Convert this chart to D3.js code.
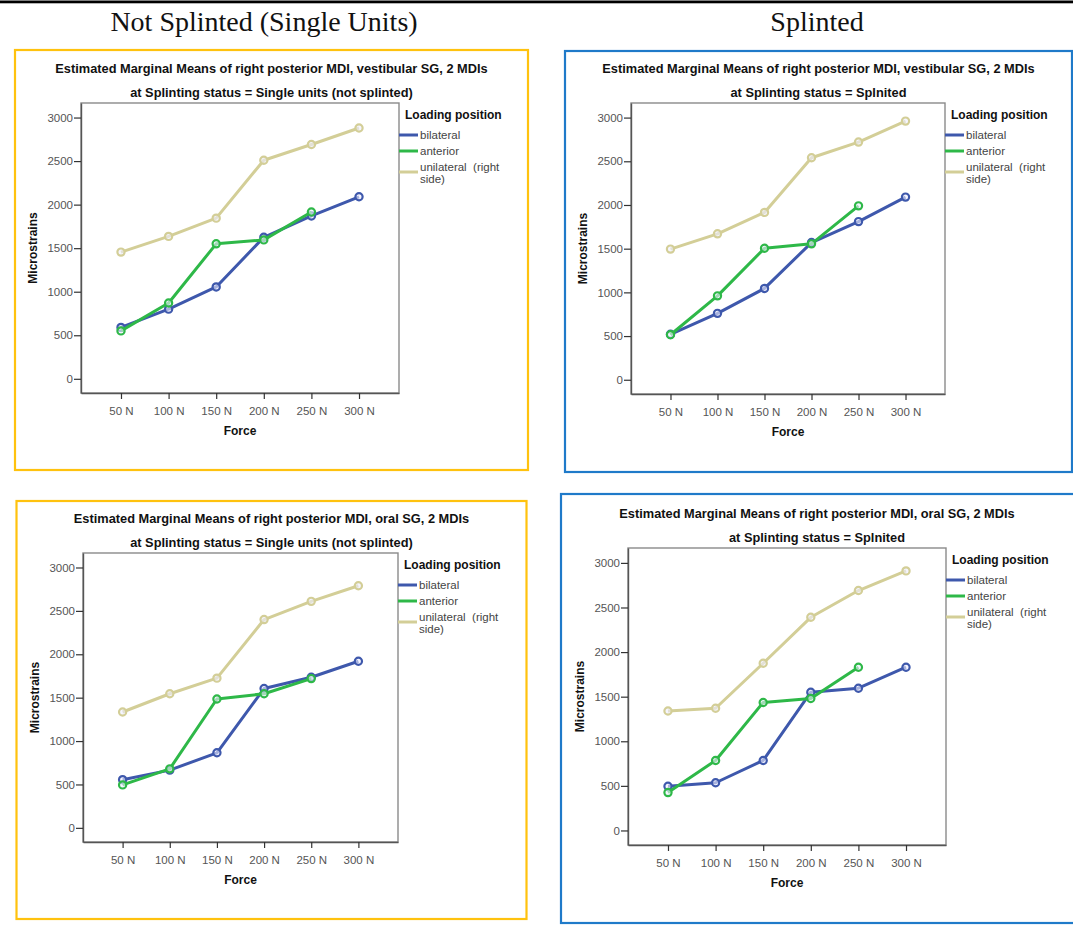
<!DOCTYPE html>
<html>
<head>
<meta charset="utf-8">
<script src="https://cdn.jsdelivr.net/npm/d3@7"></script>
<style>
  html, body { margin: 0; padding: 0; background: #fff; }
  svg { display: block; }
  text { font-family: "Liberation Sans", Arial, sans-serif; }
</style>
</head>
<body>
<svg id="fig" width="1073" height="931"></svg>
<script>
// Force levels on the x axis
const forces = ["50 N", "100 N", "150 N", "200 N", "250 N", "300 N"];
const yTicks = [0, 500, 1000, 1500, 2000, 2500, 3000];
const positions = ["bilateral", "anterior", "unilateral"];
const positionLabels = [["bilateral"], ["anterior"], ["unilateral  (right", "side)"]];

// Estimated marginal means (microstrains), vestibular SG, single units
const vestSingleBilateral  = [590, 800, 1055, 1625, 1870, 2090];
const vestSingleAnterior   = [550, 870, 1550, 1595, 1915];
const vestSingleUnilateral = [1455, 1635, 1845, 2510, 2690, 2880];

// vestibular SG, splinted
const vestSplintBilateral  = [520, 760, 1045, 1570, 1810, 2090];
const vestSplintAnterior   = [515, 960, 1505, 1555, 1990];
const vestSplintUnilateral = [1495, 1670, 1915, 2540, 2720, 2960];

// oral SG, single units
const oralSingleBilateral  = [555, 665, 865, 1605, 1735, 1920];
const oralSingleAnterior   = [495, 680, 1485, 1545, 1720];
const oralSingleUnilateral = [1335, 1545, 1725, 2400, 2610, 2790];

// oral SG, splinted
const oralSplintBilateral  = [495, 535, 785, 1550, 1595, 1830];
const oralSplintAnterior   = [425, 785, 1435, 1480, 1830];
const oralSplintUnilateral = [1340, 1370, 1875, 2390, 2690, 2910];

const titleLine1 = [
  "Estimated Marginal Means of right posterior MDI, vestibular SG, 2 MDIs",
  "Estimated Marginal Means of right posterior MDI, vestibular SG, 2 MDIs",
  "Estimated Marginal Means of right posterior MDI, oral SG, 2 MDIs",
  "Estimated Marginal Means of right posterior MDI, oral SG, 2 MDIs"
];
const titleLine2 = [
  "at Splinting status = Single units (not splinted)",
  "at Splinting status = Splnited",
  "at Splinting status = Single units (not splinted)",
  "at Splinting status = Splnited"
];
const seriesByPanel = [
  [vestSingleBilateral, vestSingleAnterior, vestSingleUnilateral],
  [vestSplintBilateral, vestSplintAnterior, vestSplintUnilateral],
  [oralSingleBilateral, oralSingleAnterior, oralSingleUnilateral],
  [oralSplintBilateral, oralSplintAnterior, oralSplintUnilateral]
];

const colors = { bilateral: "#3e58ac", anterior: "#2eb848", unilateral: "#d3ce97" };

// Panel geometry: outer coloured box and inner plot frame
const layout = [
  { box: [15, 50, 528, 470],   frame: [81, 103, 399, 393],  border: "#ffc20e" },
  { box: [565, 51, 1072, 472], frame: [631, 103, 945, 394], border: "#1f7ac9" },
  { box: [16.5, 501, 526.5, 919], frame: [83, 553, 398, 842], border: "#ffc20e" },
  { box: [561, 494, 1080, 923], frame: [628, 548, 946, 845], border: "#1f7ac9" }
];

const svg = d3.select("#fig");

// Header rule and column headings
svg.append("rect").attr("x", 0).attr("y", 0.5).attr("width", 1073).attr("height", 2.8).attr("fill", "#000");
svg.append("text").attr("x", 264).attr("y", 31)
  .attr("text-anchor", "middle")
  .style("font-family", "'Liberation Serif', 'DejaVu Serif', serif")
  .style("font-size", "28px").attr("fill", "#111")
  .text("Not Splinted (Single Units)");
svg.append("text").attr("x", 817).attr("y", 31)
  .attr("text-anchor", "middle")
  .style("font-family", "'Liberation Serif', 'DejaVu Serif', serif")
  .style("font-size", "28px").attr("fill", "#111")
  .text("Splinted");

layout.forEach((L, i) => {
  const g = svg.append("g");
  const [bx0, by0, bx1, by1] = L.box;
  const [fx0, fy0, fx1, fy1] = L.frame;

  g.append("rect").attr("x", bx0).attr("y", by0)
    .attr("width", bx1 - bx0).attr("height", by1 - by0)
    .attr("fill", "#fff").attr("stroke", L.border).attr("stroke-width", 2.2);

  const x = d3.scalePoint().domain(forces).range([fx0, fx1]).padding(0.84);
  const y = d3.scaleLinear().domain([-163, 3167]).range([fy1, fy0]);

  // Titles
  const cx = (bx0 + Math.min(bx1, 1073)) / 2;
  g.append("text").attr("x", cx).attr("y", fy0 - 30)
    .attr("text-anchor", "middle").style("font-size", "12.8px").style("font-weight", "bold")
    .attr("fill", "#111").text(titleLine1[i]);
  g.append("text").attr("x", cx).attr("y", fy0 - 6.5)
    .attr("text-anchor", "middle").style("font-size", "12.8px").style("font-weight", "bold")
    .attr("fill", "#111").text(titleLine2[i]);

  // Plot frame
  g.append("rect").attr("x", fx0).attr("y", fy0)
    .attr("width", fx1 - fx0).attr("height", fy1 - fy0)
    .attr("fill", "none").attr("stroke", "#8a8a8a").attr("stroke-width", 1.4);

  // Axes
  const yAxis = d3.axisLeft(y).tickValues(yTicks).tickSizeInner(7).tickSizeOuter(0)
    .tickPadding(1).tickFormat(d3.format("d"));
  const ya = g.append("g").attr("transform", `translate(${fx0},0)`).call(yAxis);
  ya.select(".domain").attr("stroke", "#555").attr("stroke-width", 1.4);
  ya.selectAll(".tick line").attr("stroke", "#333").attr("stroke-width", 1.2);
  ya.selectAll(".tick text").attr("fill", "#555").style("font-size", "11.5px")
    .style("font-family", "'Liberation Sans', Arial, sans-serif");

  const xAxis = d3.axisBottom(x).tickSizeInner(6).tickSizeOuter(0).tickPadding(8);
  const xa = g.append("g").attr("transform", `translate(0,${fy1})`).call(xAxis);
  xa.select(".domain").attr("stroke", "#555").attr("stroke-width", 1.4);
  xa.selectAll(".tick line").attr("stroke", "#333").attr("stroke-width", 1.2);
  xa.selectAll(".tick text").attr("fill", "#555").style("font-size", "11.5px")
    .style("font-family", "'Liberation Sans', Arial, sans-serif");

  // Axis titles
  g.append("text").attr("x", (fx0 + fx1) / 2).attr("y", fy1 + 42)
    .attr("text-anchor", "middle").style("font-size", "12px").style("font-weight", "bold")
    .attr("fill", "#111").text("Force");
  g.append("text")
    .attr("transform", `translate(${fx0 - 44},${(fy0 + fy1) / 2}) rotate(-90)`)
    .attr("text-anchor", "middle").style("font-size", "12px").style("font-weight", "bold")
    .attr("fill", "#111").text("Microstrains");

  // Series lines and markers
  const line = d3.line().x((d, j) => x(forces[j])).y(d => y(d));
  positions.forEach((p, k) => {
    const vals = seriesByPanel[i][k];
    g.append("path").datum(vals).attr("d", line)
      .attr("fill", "none").attr("stroke", colors[p]).attr("stroke-width", 3)
      .attr("stroke-linejoin", "round");
    g.selectAll(null).data(vals).enter().append("circle")
      .attr("cx", (d, j) => x(forces[j])).attr("cy", d => y(d)).attr("r", 3.6)
      .attr("fill", "#eef").attr("fill-opacity", 0.6)
      .attr("stroke", colors[p]).attr("stroke-width", 2.2);
  });

  // Legend
  const lx = fx1 + 6;
  g.append("text").attr("x", lx).attr("y", fy0 + 16)
    .style("font-size", "12px").style("font-weight", "bold").attr("fill", "#111")
    .text("Loading position");
  const swatchY = [32, 48, 69];
  const textY = [36, 52, 68];
  positions.forEach((p, k) => {
    g.append("line").attr("x1", fx1).attr("x2", fx1 + 19)
      .attr("y1", fy0 + swatchY[k]).attr("y2", fy0 + swatchY[k])
      .attr("stroke", colors[p]).attr("stroke-width", 3);
    positionLabels[k].forEach((t, m) => {
      g.append("text").attr("x", fx1 + 21).attr("y", fy0 + textY[k] + m * 12)
        .style("font-size", "11.5px").style("white-space", "pre")
        .attr("fill", "#444").text(t);
    });
  });
});
</script>
</body>
</html>
